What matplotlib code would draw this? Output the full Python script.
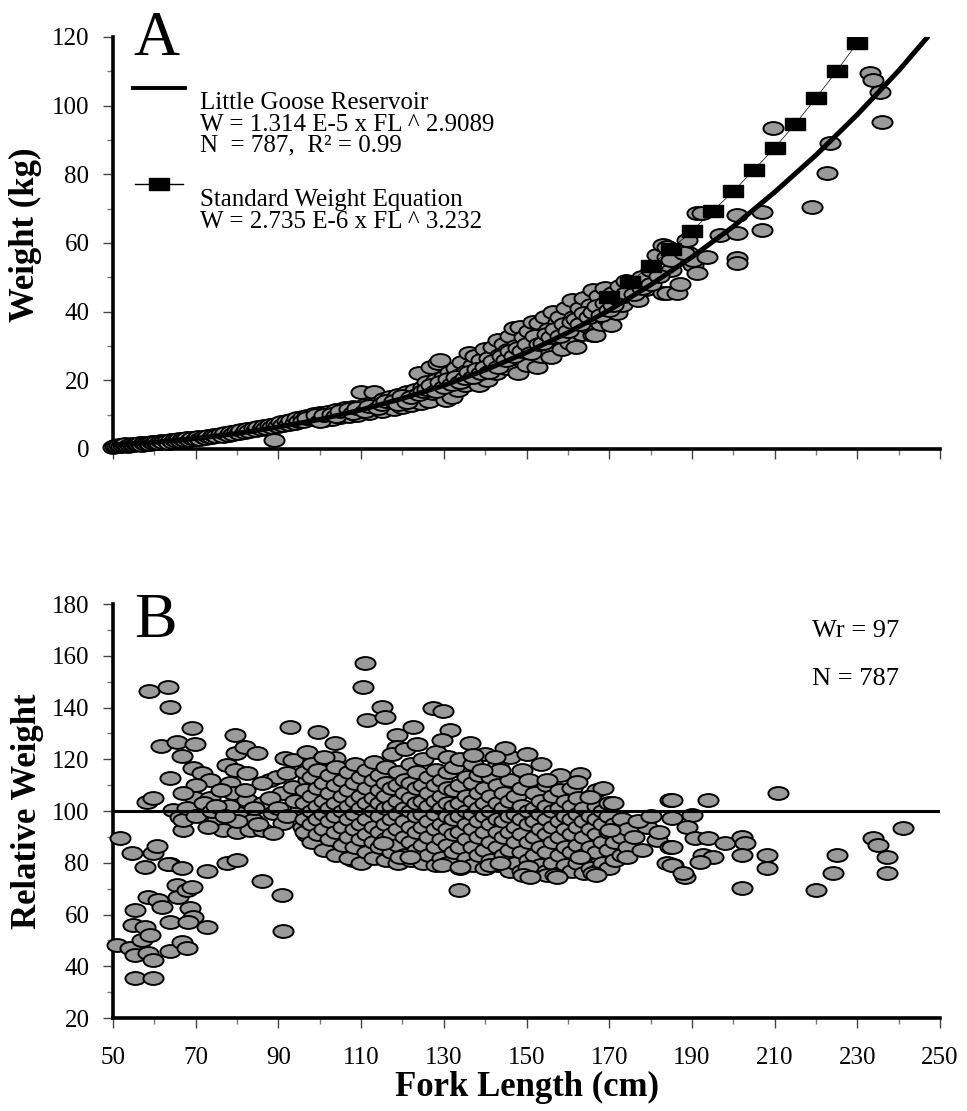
import numpy as np
import matplotlib
matplotlib.use('Agg')
from matplotlib import pyplot as plt
from matplotlib.path import Path
from matplotlib.transforms import Affine2D
from matplotlib.ticker import MultipleLocator, FixedLocator

plt.rcParams['font.family'] = ['Liberation Serif', 'DejaVu Serif']

# ---- panel A : weight vs fork length ----
fl_a = [50, 50.5, 51, 51.5, 52, 52.5, 53, 53.5, 54, 54.5, 55, 55.5, 56, 56.5, 57, 57.5, 58, 58.5, 59, 59.5,
        60, 60.5, 61, 61.5, 62, 63, 63.5, 64, 64.5, 65, 65.5, 66, 66.5, 67, 67.5, 68, 68.5, 69, 70, 70.5,
        71, 72, 72.5, 73, 74, 74.5, 75, 76, 76.5, 77, 78, 78.5, 79, 80, 80.5, 81, 82, 82.5, 83, 84,
        84.5, 85, 86, 86.5, 87, 88, 88.5, 89, 89.5, 90, 90.5, 91, 92, 92.5, 93, 94, 94.5, 95, 96, 96.5,
        97, 98, 98.5, 99, 100, 100.5, 101, 102, 102.5, 103, 104, 104.5, 105, 106, 106.5, 107, 108, 108.5, 109, 110,
        110.5, 111, 112, 113, 113.5, 114, 115, 115.5, 116, 117, 117.5, 118, 119, 119.5, 120, 121, 121.5, 122, 123, 123.5,
        124, 124.5, 125, 125.5, 126, 126.5, 127, 127.5, 128, 128.5, 129, 129.5, 130, 130.5, 131, 131.5, 132, 132.5, 133, 133.5,
        134, 134.5, 135, 135.5, 136, 136.5, 137, 137.5, 138, 138.5, 139, 139.5, 140, 140.5, 141, 141.5, 142, 142.5, 143, 143.5,
        144, 144.5, 145, 145.5, 146, 146.5, 147, 147.5, 148, 148.5, 149, 149.5, 150, 150.5, 151, 151.5, 152, 152.5, 153, 153.5,
        154, 154.5, 155, 155.5, 156, 156.5, 157, 157.5, 158, 158.5, 159, 159.5, 160, 160.5, 161, 161.5, 162, 162.5, 163, 163.5,
        164, 164.5, 165, 165.5, 166, 166, 166.6, 167, 167.5, 168, 168.5, 169, 169.5, 170, 170.5, 171, 171.5, 172, 172.5, 173,
        173.5, 174, 175, 176, 177, 178, 179, 180, 181.6, 183, 183, 184, 184, 184, 185, 186.4, 187, 188.8, 189, 190.3,
        190.3, 191.2, 191.2, 192.4, 193.7, 196.8, 200.9, 200.9, 200.9, 200.9, 207, 207, 209.6, 219, 222.7, 223.4, 233.1, 233.8,
        235.5, 236,
        # second layer along the curve
        96, 97, 99, 100, 101, 103, 104, 105, 107, 108, 109, 111, 112, 114, 115, 116, 118, 119, 120, 121,
        122, 124, 125, 126, 127, 128, 129, 130, 131, 132, 133, 134, 135, 136, 137, 138, 139, 140, 141, 142,
        143, 144, 145, 146, 147, 148, 149, 150, 151, 152, 153, 154, 155, 156, 157, 158, 159, 160, 161, 162,
        163, 164, 165, 166, 167, 168, 169, 170, 171, 172, 174, 176, 178, 180, 182, 185, 188]
w_a = [0.6, 1.0, 0.8, 1.2, 0.9, 1.1, 1.3, 0.9, 1.2, 1.4, 1.1, 1.5, 1.3, 1.6, 1.2, 1.7, 1.5, 1.8, 1.4, 1.9,
       1.7, 2.1, 1.6, 2.2, 1.9, 2.3, 1.8, 2.5, 2.0, 2.6, 2.2, 2.8, 2.3, 2.9, 2.5, 3.1, 2.6, 3.3, 2.9, 3.5,
       3.0, 3.6, 3.2, 3.9, 3.4, 4.1, 3.7, 4.4, 3.9, 4.6, 4.2, 4.9, 4.4, 5.1, 4.6, 5.4, 4.9, 5.7, 5.2, 6.0,
       5.4, 6.3, 5.7, 6.6, 6.0, 7.0, 6.3, 2.6, 7.3, 6.6, 7.8, 7.0, 8.1, 7.3, 8.5, 7.7, 8.9, 8.1, 9.3, 8.4,
       9.7, 8.8, 10.1, 9.2, 10.5, 9.5, 8.3, 10.9, 9.9, 8.8, 11.4, 10.3, 9.2, 11.8, 10.7, 9.6, 12.3, 11.1, 10.0, 16.6,
       11.6, 12.8, 10.5, 16.6, 12.0, 13.4, 11.0, 14.6, 12.5, 15.2, 13.1, 11.7, 15.8, 13.7, 12.2, 16.5, 14.3, 12.8, 17.3, 15.0,
       22.1, 13.4, 18.0, 15.7, 19.6, 14.1, 23.9, 16.4, 20.2, 25.0, 25.9, 17.2, 21.0, 14.3, 19.0, 22.4, 15.1, 19.8, 23.5, 17.2,
       21.5, 25.4, 18.6, 22.7, 28.0, 20.1, 24.5, 27.0, 21.5, 18.6, 25.8, 23.0, 29.0, 20.1, 26.5, 24.0, 29.7, 22.0, 31.8, 27.5,
       25.0, 30.5, 23.5, 28.8, 33.0, 26.5, 35.2, 30.0, 22.1, 35.5, 27.5, 32.5, 24.5, 34.5, 29.5, 37.0, 31.5, 23.9, 36.7, 27.0,
       33.5, 38.5, 29.5, 35.0, 26.8, 40.0, 32.0, 37.0, 38.4, 29.0, 34.5, 41.0, 36.5, 31.0, 43.4, 38.5, 29.7, 35.0, 41.0, 33.5,
       44.0, 38.0, 35.5, 42.0, 33.2, 46.3, 33.2, 39.0, 44.5, 36.5, 41.5, 47.0, 38.0, 43.0, 36.1, 45.5, 40.0, 39.6, 47.5, 42.0,
       44.5, 49.0, 45.0, 47.5, 43.5, 50.0, 46.5, 52.0, 56.5, 59.4, 45.4, 55.9, 58.8, 45.4, 52.0, 45.4, 48.0, 60.9, 57.0, 53.6,
       55.0, 68.7, 51.3, 68.7, 55.9, 62.3, 68.2, 62.9, 55.6, 54.2, 69.0, 63.8, 93.5, 70.5, 80.4, 89.1, 109.5, 107.5,
       104.0, 95.3,
       # second layer along the curve
       8.0, 8.9, 9.8, 8.2, 10.0, 10.2, 9.5, 11.0, 11.6, 10.5, 12.0, 11.0, 12.6, 12.0, 13.2, 14.0, 14.0, 13.0, 15.5, 13.8,
       15.0, 16.0, 16.8, 17.5, 18.5, 17.0, 19.5, 18.0, 20.5, 19.0, 21.0, 19.5, 20.8, 22.5, 21.0, 23.2, 22.0, 24.0, 22.5, 25.5,
       24.0, 27.0, 26.0, 28.5, 27.0, 29.5, 28.5, 30.5, 28.0, 33.0, 30.5, 31.0, 33.5, 32.5, 35.0, 33.0, 36.5, 34.5, 37.0, 38.0,
       36.5, 39.5, 38.5, 40.0, 41.5, 39.0, 42.5, 40.5, 42.0, 44.0, 45.5, 45.0, 47.0, 48.0, 50.5, 55.0, 57.0]

# fitted curve
curve_fl = [50, 60, 70, 80, 90, 100, 110, 120, 130, 140, 150, 160, 170, 180, 190, 200, 210, 220, 230, 240, 247]
curve_w = [1.15, 1.95, 3.06, 4.5, 6.4, 8.6, 11.4, 14.7, 18.5, 23.0, 28.1, 33.9, 40.4, 47.8, 55.9, 64.8, 74.8, 85.6,
           97.4, 110.2, 120.0]

# standard weight squares
std_fl = [170, 175, 180, 185, 190, 195, 200, 205, 210, 215, 220, 225, 230]
std_w = [44.2, 48.6, 53.4, 58.2, 63.5, 69.3, 75.0, 81.3, 87.7, 94.7, 102.2, 110.1, 118.3]

# ---- panel B : relative weight ----
fl_b = [51.7, 54.6, 57.7, 59.7, 60.6, 58.7, 63.3, 63.8, 61.6, 63.8, 58.2, 59.7, 63.8, 65.5, 66.7, 69.1, 69.8, 69.3, 71.5, 73.5,
        64.5, 66.2, 67.0, 66.8, 69.8, 71.8, 73.5, 75.2, 76.6, 77.6, 79.5, 79.7, 81.9, 84.8, 79.5, 82.4, 78.3, 79.0, 82.4, 80.2,
        80.0, 83.9, 83.1, 86.3, 86.3, 88.0, 92.8, 91.6, 93.5, 89.7, 92.1, 90.9, 93.5, 88.7, 91.1, 88.7, 95.2, 96.0, 96.9, 96.9,
        97.2, 99.3, 99.6, 100.0, 103.7, 103.7, 100.8, 100.0, 102.5, 103.2, 104.9, 108.1, 110.5, 112.9, 110.9, 110.5, 111.4, 115.1, 115.8, 118.7,
        118.7,
        63.3, 66.7, 72.7, 77.6, 80.0, 86.0, 90.9, 91.1, 51.0, 54.8, 55.3, 54.1, 55.3, 56.9, 57.7, 58.9, 58.5, 60.9, 61.8, 58.5,
        59.7, 55.3, 59.7, 63.8, 63.8, 65.5, 65.7, 66.7, 67.9, 67.9, 69.1, 68.6, 69.3, 68.1, 72.7,
        68, 70, 72, 74, 76, 78, 80, 82, 84, 86, 88, 90, 92, 94, 85, 75, 70, 67, 73, 77,
        # dense block
        96.5, 96.5, 96.5, 96.5, 96.5, 98, 98, 98, 98, 98, 98, 99.5, 99.5, 99.5, 99.5, 99.5,
        101, 101, 101, 101, 101, 101, 102.5, 102.5, 102.5, 102.5, 102.5, 104, 104, 104, 104, 104, 104,
        105.5, 105.5, 105.5, 105.5, 105.5, 107, 107, 107, 107, 107, 107, 108.5, 108.5, 108.5, 108.5, 108.5, 108.5,
        110, 110, 110, 110, 110, 110, 111.5, 111.5, 111.5, 111.5, 111.5, 111.5, 113, 113, 113, 113, 113, 113, 113,
        114.5, 114.5, 114.5, 114.5, 114.5, 114.5, 116, 116, 116, 116, 116, 116, 116, 117.5, 117.5, 117.5, 117.5, 117.5, 117.5,
        119, 119, 119, 119, 119, 119, 119, 120.5, 120.5, 120.5, 120.5, 120.5, 120.5, 120.5, 122, 122, 122, 122, 122, 122, 122,
        123.5, 123.5, 123.5, 123.5, 123.5, 123.5, 123.5, 125, 125, 125, 125, 125, 125, 125, 126.5, 126.5, 126.5, 126.5, 126.5, 126.5,
        128, 128, 128, 128, 128, 128, 128, 128, 129.5, 129.5, 129.5, 129.5, 129.5, 129.5,
        131, 131, 131, 131, 131, 131, 131, 131, 132.5, 132.5, 132.5, 132.5, 132.5, 132.5, 134, 134, 134, 134, 134, 134, 134,
        135.5, 135.5, 135.5, 135.5, 135.5, 135.5, 137, 137, 137, 137, 137, 137, 137, 138.5, 138.5, 138.5, 138.5, 138.5, 138.5,
        140, 140, 140, 140, 140, 140, 140, 141.5, 141.5, 141.5, 141.5, 141.5, 141.5, 143, 143, 143, 143, 143, 143, 143,
        144.5, 144.5, 144.5, 144.5, 144.5, 146, 146, 146, 146, 146, 146, 146, 147.5, 147.5, 147.5, 147.5, 147.5,
        149, 149, 149, 149, 149, 149, 149, 150.5, 150.5, 150.5, 150.5, 150.5, 152, 152, 152, 152, 152, 152,
        153.5, 153.5, 153.5, 153.5, 153.5, 153.5, 155, 155, 155, 155, 155, 155, 156.5, 156.5, 156.5, 156.5, 156.5,
        158, 158, 158, 158, 158, 158, 158, 159.5, 159.5, 159.5, 159.5, 159.5, 161, 161, 161, 161, 161, 161,
        162.5, 162.5, 162.5, 162.5, 162.5, 164, 164, 164, 164, 164, 165.5, 165.5, 165.5, 165.5, 165.5,
        167, 167, 167, 167, 167, 167, 168.5, 168.5, 168.5, 168.5, 170, 170, 170, 170, 170, 171.5, 171.5, 171.5,
        173, 173, 173, 174.5, 174.5,
        # upper / lower edges of the cloud
        127.4, 129.8, 122.6, 131.5, 129.6, 136.3, 144.8, 150.1, 137.1, 142.4, 162.9, 162.2, 168.5, 155.0, 143.6, 139.2,
        119.4, 121.8, 129.6, 133.9, 141.2, 143.6, 150.4, 166.1, 115.3,
        133.7, 149.2, 155.0, 156.9, 150.8, 157.4, 166.8, 162.9, 174.3, 188.3,
        # right tail
        170.9, 165.4, 184.7, 170.2, 179.1, 181.6, 184.7, 184.0, 185.4, 176, 178, 177, 180, 182,
        210.8, 185.2, 193.9, 185.2, 190.0, 188.8, 190.8, 193.9, 198.0, 202.1, 202.8, 202.1, 192.7, 195.1, 192.0, 185.2,
        185.2, 187.8, 208.2, 208.2, 225.1, 224.1, 233.8, 235.0, 237.2, 237.2, 241.0, 202.1, 220.0]
wr_b = [89.6, 83.8, 78.4, 83.8, 86.5, 146.4, 148, 140.2, 125.1, 112.7, 103.5, 105, 79.5, 126.7, 121.3, 132.1, 125.9, 116.6, 114.7, 112,
        100.4, 97.5, 92.7, 96.5, 105, 99.2, 105, 96.5, 92.7, 117.8, 129.4, 122.4, 124.7, 122.4, 115.8, 114.7, 110.8, 107, 104.3, 99.2,
        91.9, 96.5, 92.7, 103.1, 92.7, 112, 132.5, 120.5, 119.7, 113.1, 114.7, 107, 109.3, 99.2, 95.4, 91.5, 100.4, 93.8, 90.7, 122.8,
        112, 105.4, 130.5, 112, 126.3, 120.5, 120.5, 98.5, 90, 86.1, 83.8, 81.1, 82.2, 83.8, 157.2, 148, 135.2, 140.2, 136.3, 129.4,
        124.7,
        79.5, 78, 76.8, 79.9, 81, 72.9, 67.5, 53.6, 48.2, 56, 61.7, 47, 44.3, 50.1, 55.2, 52.1, 66.8, 65.6, 62.9, 45.1,
        42.4, 35.5, 35.5, 57.1, 45.9, 71.4, 66.8, 49.4, 47, 69.5, 70.6, 62.5, 59, 57.1, 55.2,
        101, 98, 103, 100, 108, 102, 96, 108, 101, 111, 105, 101, 98, 104, 95, 102, 110, 107, 94, 98,
        # dense block
        92, 97, 103, 108, 115, 88, 95, 100, 106, 113, 118, 91, 97, 102, 109, 116,
        85, 93, 99, 104, 111, 121, 89, 96, 101, 107, 114, 83, 92, 98, 103, 110, 117,
        87, 94, 100, 106, 112, 82, 90, 97, 102, 108, 115, 86, 93, 99, 104, 111, 118,
        80, 89, 95, 101, 106, 113, 84, 91, 97, 103, 109, 116, 82, 88, 94, 100, 105, 112, 119,
        86, 92, 98, 103, 108, 114, 81, 89, 95, 101, 106, 111, 117, 84, 91, 97, 102, 109, 122,
        80, 87, 93, 99, 104, 110, 115, 83, 90, 96, 101, 107, 112, 124, 81, 88, 94, 100, 105, 111, 118,
        85, 92, 98, 103, 109, 115, 126, 80, 87, 94, 99, 104, 110, 120, 83, 90, 96, 102, 107, 113,
        79, 86, 93, 99, 104, 110, 116, 123, 82, 89, 95, 101, 106, 112,
        80, 87, 93, 98, 103, 109, 115, 121, 84, 91, 97, 102, 108, 117, 78, 86, 92, 98, 103, 110, 120,
        82, 89, 95, 100, 106, 113, 79, 86, 93, 99, 104, 111, 118, 83, 90, 96, 101, 107, 114,
        78, 85, 92, 98, 103, 109, 122, 81, 88, 95, 100, 106, 113, 79, 86, 92, 97, 103, 110, 118,
        83, 90, 96, 101, 107, 77, 85, 92, 98, 104, 112, 121, 80, 88, 94, 99, 106,
        77, 84, 91, 97, 102, 109, 116, 81, 88, 95, 100, 112, 76, 83, 90, 96, 101, 107,
        79, 86, 93, 99, 104, 118, 77, 84, 91, 97, 102, 110, 80, 88, 94, 100, 106,
        76, 83, 90, 96, 101, 108, 114, 79, 86, 93, 98, 104, 77, 84, 91, 97, 102, 109,
        80, 87, 94, 99, 105, 76, 83, 90, 96, 101, 78, 86, 93, 98, 106,
        77, 84, 91, 97, 102, 108, 80, 88, 95, 100, 78, 85, 92, 98, 103, 81, 88, 95,
        83, 90, 97, 86, 93,
        # upper / lower edges of the cloud
        139.8, 138.6, 132.5, 131.3, 127.4, 126.3, 124.3, 122, 121.6, 120.9, 114.3, 111.2, 108.9, 112, 115.8, 115.8,
        82.2, 82.2, 79.1, 78.4, 79.1, 79.9, 78.4, 76, 87.6,
        69.5, 75.3, 75.3, 75.3, 74.5, 74.5, 75.3, 82.2, 82.2, 74.5,
        # right tail
        103.1, 105.4, 104.3, 92.7, 93.8, 88.8, 86.1, 79.9, 79.1, 90, 85, 96, 98, 92,
        107, 104.3, 104.3, 97.3, 98.5, 93.8, 89.6, 89.6, 87.6, 90, 87.6, 83, 83, 82.2, 80.3, 86.1,
        79.1, 76, 83, 78, 83, 76, 89.6, 86.9, 82.2, 76, 93.4, 70.2, 69.5]

x_major = [50, 70, 90, 110, 130, 150, 170, 190, 210, 230, 250]
x_minor = [60, 80, 100, 120, 140, 160, 180, 200, 220, 240]

# ellipse marker and flat square marker
ell = Path.unit_circle().transformed(Affine2D().scale(1.0, 0.64))
sq = Path([(-1, -0.6), (1, -0.6), (1, 0.6), (-1, 0.6), (-1, -0.6)],
          [Path.MOVETO, Path.LINETO, Path.LINETO, Path.LINETO, Path.CLOSEPOLY])

gray = '#9a9a9a'

fig = plt.figure(figsize=(9.67, 11.11), dpi=100)
ax1 = fig.add_axes([0.1169, 0.5959, 0.8552, 0.3708])
ax2 = fig.add_axes([0.1169, 0.0837, 0.8552, 0.3726])


def style_axes(ax):
    for s in ['top', 'right']:
        ax.spines[s].set_visible(False)
    for s in ['left', 'bottom']:
        ax.spines[s].set_linewidth(2.6)
    ax.xaxis.set_major_locator(FixedLocator(x_major))
    ax.xaxis.set_minor_locator(FixedLocator(x_minor))
    ax.yaxis.set_major_locator(MultipleLocator(20))
    ax.yaxis.set_minor_locator(MultipleLocator(10))
    ax.tick_params(which='major', direction='out', length=7, width=1, color='#444444', labelsize=18)
    ax.tick_params(which='minor', direction='out', length=4, width=1, color='#777777')
    ax.tick_params(axis='y', which='major', pad=10)
    ax.tick_params(axis='x', which='major', pad=14)


# panel A
ax1.plot(fl_a, w_a, linestyle='none', marker=ell, ms=14.5, mfc=gray, mec='black', mew=1.4,
         clip_on=False, zorder=3)
ax1.plot(curve_fl, curve_w, color='black', lw=3.6, solid_capstyle='round', zorder=4)
ax1.plot(std_fl, std_w, color='black', lw=0.5, marker=sq, ms=14.5, mfc='black', mec='black',
         zorder=5)
ax1.set_xlim(50, 250)
ax1.set_ylim(0, 120)
style_axes(ax1)
ax1.tick_params(labelbottom=False)
ax1.set_ylabel('Weight (kg)', fontsize=25, fontweight='bold')
ax1.yaxis.set_label_coords(-0.086, 0.52)
ax1.text(0.025, 0.956, 'A', transform=ax1.transAxes, fontsize=46, va='baseline', ha='left')

# legend drawn by hand to keep the stacked layout
ax1.plot([0.024, 0.087], [0.876, 0.876], transform=ax1.transAxes, color='black', lw=2.8)
ax1.plot([0.027, 0.085], [0.643, 0.643], transform=ax1.transAxes, color='black', lw=1.0)
ax1.plot([0.056], [0.643], transform=ax1.transAxes, marker=sq, ms=14.5, color='black')
leg_lines = [('Little Goose Reservoir', 0.840),
             ('W = 1.314 E-5 x FL ^ 2.9089', 0.787),
             ('N  = 787,  R\u00b2 = 0.99', 0.736),
             ('Standard Weight Equation', 0.604),
             ('W = 2.735 E-6 x FL ^ 3.232', 0.552)]
for txt, yy in leg_lines:
    ax1.text(0.105, yy, txt, transform=ax1.transAxes, fontsize=18, va='center', ha='left')

# panel B
ax2.plot(fl_b, wr_b, linestyle='none', marker=ell, ms=14.5, mfc=gray, mec='black', mew=1.4,
         clip_on=False, zorder=3)
ax2.axhline(100, color='black', lw=2.2, zorder=4)
ax2.set_xlim(50, 250)
ax2.set_ylim(20, 180)
style_axes(ax2)
ax2.set_ylabel('Relative Weight', fontsize=25, fontweight='bold')
ax2.yaxis.set_label_coords(-0.084, 0.5)
ax2.set_xlabel('Fork Length (cm)', fontsize=25, fontweight='bold')
ax2.xaxis.set_label_coords(0.5, -0.128)
ax2.text(0.025, 0.920, 'B', transform=ax2.transAxes, fontsize=46, va='baseline', ha='left')
ax2.text(0.845, 0.935, 'Wr = 97', transform=ax2.transAxes, fontsize=19, va='center', ha='left')
ax2.text(0.845, 0.82, 'N = 787', transform=ax2.transAxes, fontsize=19, va='center', ha='left')

fig.savefig('out.png', dpi=100)
